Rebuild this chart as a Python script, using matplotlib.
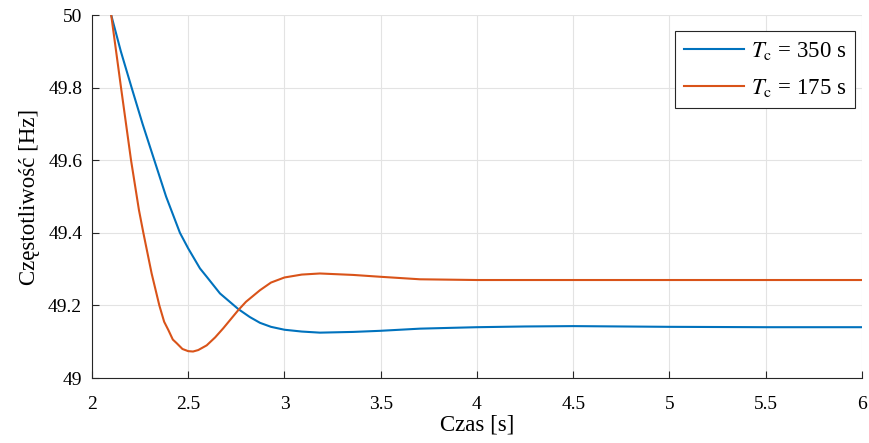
import matplotlib.pyplot as plt

# values (time in s, frequency in Hz)
t_350 = [2.10, 2.15, 2.206, 2.263, 2.324, 2.385, 2.457, 2.50, 2.561, 2.596, 2.665, 2.76, 2.82,
         2.873, 2.93, 3.0, 3.09, 3.184, 3.357, 3.496, 3.704, 3.85, 4.0, 4.25, 4.5, 4.75, 5.0, 5.5, 6.0]
f_350 = [50.0, 49.90, 49.80, 49.70, 49.60, 49.50, 49.40, 49.357, 49.302, 49.279, 49.233, 49.190, 49.168,
         49.152, 49.141, 49.133, 49.128, 49.125, 49.127, 49.130, 49.136, 49.138, 49.140, 49.142, 49.143, 49.142, 49.141, 49.140, 49.140]

t_175 = [2.10, 2.151, 2.203, 2.244, 2.267, 2.31, 2.35, 2.375, 2.397, 2.42, 2.44, 2.47, 2.50, 2.525,
         2.552, 2.596, 2.64, 2.682, 2.76, 2.80, 2.873, 2.93, 3.0, 3.09, 3.184, 3.357, 3.496, 3.704,
         4.0, 4.5, 5.0, 5.5, 6.0]
f_175 = [50.0, 49.80, 49.60, 49.463, 49.40, 49.288, 49.20, 49.155, 49.132, 49.106, 49.096, 49.080, 49.074, 49.073,
         49.077, 49.090, 49.112, 49.137, 49.187, 49.210, 49.242, 49.263, 49.277, 49.285, 49.288, 49.284, 49.279, 49.272,
         49.270, 49.270, 49.270, 49.270, 49.270]

labels = [r'$T_\mathrm{c}$ = 350 s', r'$T_\mathrm{c}$ = 175 s']
xticks = [2, 2.5, 3, 3.5, 4, 4.5, 5, 5.5, 6]
xticklabels = ['2', '2.5', '3', '3.5', '4', '4.5', '5', '5.5', '6']
yticks = [49, 49.2, 49.4, 49.6, 49.8, 50]
yticklabels = ['49', '49.2', '49.4', '49.6', '49.8', '50']

plt.rcParams['font.family'] = ['Liberation Serif', 'DejaVu Serif']
plt.rcParams['mathtext.fontset'] = 'stix'

fig = plt.figure(figsize=(8.7, 4.43), dpi=100)
ax = fig.add_axes([0.1057, 0.1467, 0.8851, 0.8193])

ax.plot(t_350, f_350, color='#0072BD', lw=1.5, label=labels[0])
ax.plot(t_175, f_175, color='#D95319', lw=1.5, label=labels[1])

ax.set_xlim(2, 6)
ax.set_ylim(49, 50)
ax.set_xticks(xticks)
ax.set_xticklabels(xticklabels)
ax.set_yticks(yticks)
ax.set_yticklabels(yticklabels)
ax.tick_params(direction='in', labelsize=14, color='#262626', length=5)
ax.tick_params(axis='x', pad=13)
ax.tick_params(axis='y', pad=7)
ax.grid(True, color='#e3e3e3', lw=0.8)
for s in ax.spines.values():
    s.set_color('#262626')
    s.set_linewidth(0.8)
ax.spines['top'].set_visible(False)
ax.spines['right'].set_visible(False)

ax.set_xlabel('Czas [s]', fontsize=16.5, labelpad=1)
ax.set_ylabel('Częstotliwość [Hz]', fontsize=16.5, labelpad=6)

leg = ax.legend(loc='upper right', fontsize=16.5, fancybox=False, framealpha=1,
                edgecolor='#262626', handlelength=2.6, handletextpad=0.3,
                borderpad=0.4, labelspacing=0.65, borderaxespad=0,
                bbox_to_anchor=(0.991, 0.956))
leg.get_frame().set_linewidth(0.8)

fig.savefig('out.png', dpi=100)
